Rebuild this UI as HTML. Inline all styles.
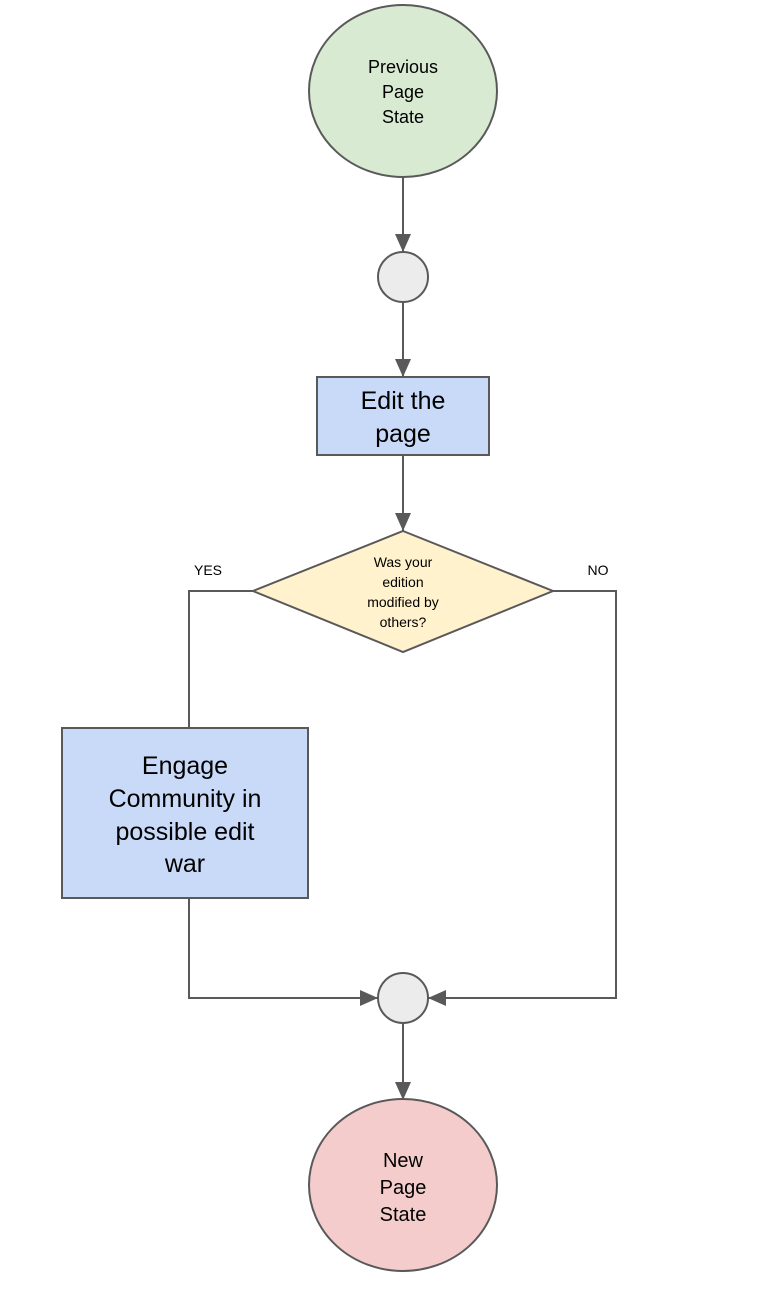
<!DOCTYPE html>
<html><head><meta charset="utf-8"><style>html,body{margin:0;padding:0;background:#fff;}svg{display:block}</style></head>
<body>
<svg width="758" height="1312" viewBox="0 0 758 1312" xmlns="http://www.w3.org/2000/svg" font-family="Liberation Sans, sans-serif">
<defs><marker id="a" markerWidth="10" markerHeight="10" refX="9" refY="5" orient="auto" markerUnits="userSpaceOnUse"><path d="M0,0 L10,5 L0,10 z" fill="#595959"/></marker>
<marker id="b" markerWidth="20" markerHeight="20" refX="18" refY="8" orient="auto" markerUnits="userSpaceOnUse"><path d="M0,0 L18,8 L0,16 z" fill="#595959"/></marker></defs>
<g stroke="#595959" stroke-width="2" fill="none">
<line x1="403" y1="177" x2="403" y2="252" marker-end="url(#b)"/>
<line x1="403" y1="302" x2="403" y2="377" marker-end="url(#b)"/>
<line x1="403" y1="455" x2="403" y2="531" marker-end="url(#b)"/>
<polyline points="253,591 189,591 189,728"/>
<polyline points="189,898 189,998 378,998" marker-end="url(#b)"/>
<polyline points="553,591 616,591 616,998 428,998" marker-end="url(#b)"/>
<line x1="403" y1="1023" x2="403" y2="1100" marker-end="url(#b)"/>
</g>
<g stroke="#595959" stroke-width="2">
<ellipse cx="403" cy="91" rx="94" ry="86" fill="#d9ead3"/>
<circle cx="403" cy="277" r="25" fill="#ececec"/>
<rect x="317" y="377" width="172" height="78" fill="#c9daf8"/>
<polygon points="403,531 553,591 403,652 253,591" fill="#fff2cc"/>
<rect x="62" y="728" width="246" height="170" fill="#c9daf8"/>
<circle cx="403" cy="998" r="25" fill="#ececec"/>
<ellipse cx="403" cy="1185" rx="94" ry="86" fill="#f4cccc"/>
</g>
<g fill="#000" text-anchor="middle">
<text x="403" y="73" font-size="18">Previous</text>
<text x="403" y="98" font-size="18">Page</text>
<text x="403" y="123" font-size="18">State</text>
<text x="403" y="409" font-size="25">Edit the</text>
<text x="403" y="442" font-size="25">page</text>
<text x="403" y="567" font-size="14">Was your</text>
<text x="403" y="587" font-size="14">edition</text>
<text x="403" y="607" font-size="14">modified by</text>
<text x="403" y="627" font-size="14">others?</text>
<text x="208" y="575" font-size="14">YES</text>
<text x="598" y="575" font-size="14">NO</text>
<text x="185" y="774" font-size="25">Engage</text>
<text x="185" y="807" font-size="25">Community in</text>
<text x="185" y="840" font-size="25">possible edit</text>
<text x="185" y="872" font-size="25">war</text>
<text x="403" y="1167" font-size="20">New</text>
<text x="403" y="1194" font-size="20">Page</text>
<text x="403" y="1221" font-size="20">State</text>
</g>
</svg>
</body></html>
